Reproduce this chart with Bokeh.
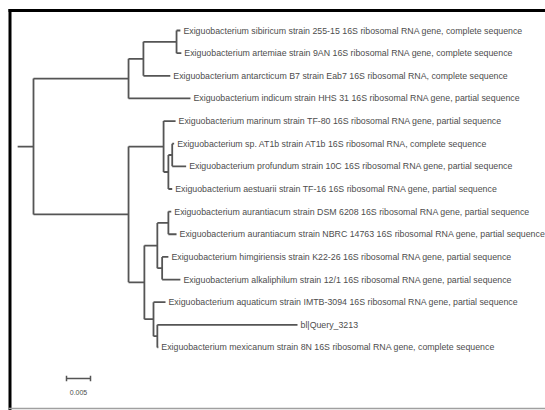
from bokeh.plotting import figure
from bokeh.models import Range1d, ColumnDataSource
from bokeh.core.properties import value
from bokeh.embed import file_html
from bokeh.resources import INLINE

# ---- tree data (parent / branch length, leaves in display order) ----
nodes = ["R", "U", "A", "B", "L1", "L2", "L3", "L4",
         "C", "D", "L5", "E", "F", "L6", "L7", "L8",
         "G", "H", "I", "L9", "L10", "J", "L11", "L12",
         "K", "L13", "Q", "L14", "L15"]
parents = [None, "R", "U", "A", "B", "B", "A", "U",
           "R", "C", "D", "D", "E", "F", "F", "E",
           "C", "G", "H", "I", "I", "H", "J", "J",
           "G", "K", "K", "Q", "Q"]
branch_lengths = [0.0033, 0.0198, 0.0031, 0.0069, 0.0008, 0.0010, 0.0056, 0.0129,
                  0.0198, 0.0073, 0.0025, 0.0010, 0.0008, 0.0004, 0.0029, 0.0008,
                  0.0033, 0.0027, 0.0023, 0.0006, 0.0017, 0.0010, 0.0013, 0.0038,
                  0.0019, 0.0025, 0.0008, 0.0292, 0.0002]
leaf_ids = ["L1", "L2", "L3", "L4", "L5", "L6", "L7", "L8",
            "L9", "L10", "L11", "L12", "L13", "L14", "L15"]
leaf_labels = [
    "Exiguobacterium sibiricum strain 255-15 16S ribosomal RNA gene, complete sequence",
    "Exiguobacterium artemiae strain 9AN 16S ribosomal RNA gene, complete sequence",
    "Exiguobacterium antarcticum B7 strain Eab7 16S ribosomal RNA, complete sequence",
    "Exiguobacterium indicum strain HHS 31 16S ribosomal RNA gene, partial sequence",
    "Exiguobacterium marinum strain TF-80 16S ribosomal RNA gene, partial sequence",
    "Exiguobacterium sp. AT1b strain AT1b 16S ribosomal RNA, complete sequence",
    "Exiguobacterium profundum strain 10C 16S ribosomal RNA gene, partial sequence",
    "Exiguobacterium aestuarii strain TF-16 16S ribosomal RNA gene, partial sequence",
    "Exiguobacterium aurantiacum strain DSM 6208 16S ribosomal RNA gene, partial sequence",
    "Exiguobacterium aurantiacum strain NBRC 14763 16S ribosomal RNA gene, partial sequence",
    "Exiguobacterium himgiriensis strain K22-26 16S ribosomal RNA gene, partial sequence",
    "Exiguobacterium alkaliphilum strain 12/1 16S ribosomal RNA gene, partial sequence",
    "Exiguobacterium aquaticum strain IMTB-3094 16S ribosomal RNA gene, partial sequence",
    "bl|Query_3213",
    "Exiguobacterium mexicanum strain 8N 16S ribosomal RNA gene, complete sequence",
]
scale_bar_length = 0.005
scale_bar_label = "0.005"

# ---- layout (tree coordinates) ----
parent_of = dict(zip(nodes, parents))
bl_of = dict(zip(nodes, branch_lengths))
children = {n: [] for n in nodes}
for n, par in zip(nodes, parents):
    if par is not None:
        children[par].append(n)

xpos = {}
def set_x(n, depth):
    xpos[n] = depth
    for c in children[n]:
        set_x(c, depth + bl_of[c])
set_x("R", 0.0)

ypos = {lid: i for i, lid in enumerate(leaf_ids)}
def set_y(n):
    if n in ypos:
        return ypos[n]
    ys = [set_y(c) for c in children[n]]
    ypos[n] = (min(ys) + max(ys)) / 2.0
    return ypos[n]
set_y("R")

hx0, hx1, hy = [], [], []
vx, vy0, vy1 = [], [], []
for n in nodes:
    par = parent_of[n]
    if par is None:
        hx0.append(xpos[n] - bl_of[n]); hx1.append(xpos[n]); hy.append(ypos[n])
    else:
        hx0.append(xpos[par]); hx1.append(xpos[n]); hy.append(ypos[n])
    if children[n]:
        cy = [ypos[c] for c in children[n]]
        vx.append(xpos[n]); vy0.append(min(cy)); vy1.append(max(cy))

# ---- figure ----
W, H = 545, 410
PX_PER_UNIT = 4800.0
ROOT_PX = 33.0
ROW_PX = 22.64
TOP_PX = 30.0

def px_x(px):
    return (px - ROOT_PX) / PX_PER_UNIT

def px_y(py):
    return (py - TOP_PX) / ROW_PX

p = figure(width=W, height=H, output_backend="svg", toolbar_location=None,
           min_border=0, min_border_left=0, min_border_right=0,
           min_border_top=0, min_border_bottom=0)
p.x_range = Range1d(px_x(0), px_x(W))
p.y_range = Range1d(px_y(H), px_y(0))
p.axis.visible = False
p.grid.visible = False
p.outline_line_color = None
p.background_fill_color = "white"
p.border_fill_color = "white"

line_col = "#555555"
p.segment(x0=hx0, y0=hy, x1=hx1, y1=hy, line_color=line_col, line_width=1.8)
p.segment(x0=vx, y0=vy0, x1=vx, y1=vy1, line_color=line_col, line_width=1.8)

src = ColumnDataSource(dict(x=[xpos[l] for l in leaf_ids],
                            y=[ypos[l] for l in leaf_ids],
                            t=leaf_labels))
p.text(x="x", y="y", text="t", source=src, x_offset=3,
       text_font=value("Liberation Sans"), text_font_size="8.8px",
       text_color="#4d4d4d", text_baseline="middle", text_align="left")

# scale bar
sb_x0 = px_x(66)
sb_y = px_y(378)
tick = 0.12
p.segment(x0=[sb_x0], y0=[sb_y], x1=[sb_x0 + scale_bar_length], y1=[sb_y],
          line_color=line_col, line_width=1.5)
p.segment(x0=[sb_x0, sb_x0 + scale_bar_length], y0=[sb_y - tick, sb_y - tick],
          x1=[sb_x0, sb_x0 + scale_bar_length], y1=[sb_y + tick, sb_y + tick],
          line_color=line_col, line_width=1.5)
p.text(x=[sb_x0 + scale_bar_length / 2], y=[px_y(392)], text=[scale_bar_label],
       text_font=value("Liberation Sans"), text_font_size="7px",
       text_color="#4d4d4d", text_baseline="middle", text_align="center")

# frame lines
p.segment(x0=[px_x(8)], y0=[px_y(10)], x1=[px_x(W)], y1=[px_y(10)],
          line_color="black", line_width=3)
p.segment(x0=[px_x(9.5)], y0=[px_y(8.5)], x1=[px_x(9.5)], y1=[px_y(H)],
          line_color="black", line_width=3)
p.segment(x0=[px_x(8)], y0=[px_y(408)], x1=[px_x(W)], y1=[px_y(408)],
          line_color="#a0a0a0", line_width=1.5)

open("out.html", "w").write(file_html(p, INLINE))
